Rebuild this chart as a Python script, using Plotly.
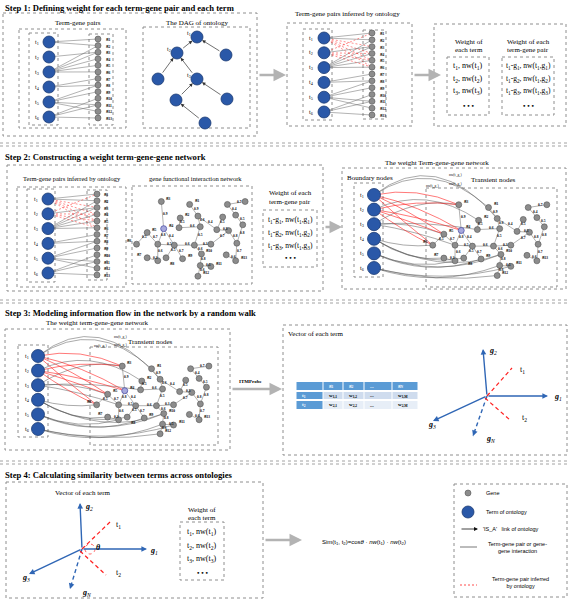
import plotly.graph_objects as go

# ---------------- data ----------------
term_labels = ["t1", "t2", "t3", "t4", "t5", "t6"]
gene_labels = ["g1", "g2", "g3", "g4", "g5", "g6", "g7", "g8", "g9", "g10", "g11", "g12", "g13"]
pair_edges = [(1, 1), (1, 2), (2, 3), (3, 2), (3, 3), (3, 4), (3, 5), (3, 6), (4, 7), (4, 8),
              (5, 8), (5, 9), (5, 11), (5, 12), (6, 10), (6, 11), (6, 13)]
inferred_edges = [(1, 3), (1, 4), (1, 5), (1, 6), (2, 1), (2, 4), (2, 5), (2, 6)]
dag_labels = ["t1", "t2", "", "t3", "", "", "", ""]
dag_links = [(1, 0), (2, 0), (4, 1), (3, 1), (5, 3), (6, 3), (7, 5)]  # child -> parent (IS_A)

net_nodes = [(0.24, 0.16), (0.26, 0.44), (0.12, 0.48), (0.03, 0.60), (0.21, 0.60), (0.35, 0.61),
             (0.12, 0.74), (0.21, 0.77), (0.28, 0.74), (0.42, 0.75), (0.40, 0.33), (0.39, 0.43),
             (0.48, 0.19), (0.55, 0.31), (0.57, 0.42), (0.52, 0.61), (0.58, 0.70), (0.57, 0.82),
             (0.55, 0.93), (0.66, 0.60), (0.71, 0.45), (0.76, 0.32), (0.81, 0.46), (0.88, 0.59),
             (0.87, 0.77), (0.79, 0.71), (0.80, 0.19), (0.87, 0.30), (0.93, 0.40), (0.95, 0.16),
             (0.66, 0.83)]
net_edges = [(0, 1, "0.9"), (1, 4, "0.8"), (1, 5, "0.4"), (2, 4, "0.7"), (2, 3, "0.5"), (4, 5, "0.5"),
             (4, 7, "0.6"), (6, 7, "0.3"), (5, 8, "0.5"), (5, 9, "0.7"), (5, 15, "0.6"), (10, 11, "0.5"),
             (11, 14, "0.6"), (12, 13, "0.9"), (13, 14, "0.6"), (14, 15, "0.5"), (15, 16, "0.6"),
             (16, 17, "0.8"), (17, 18, "0.6"), (17, 30, "0.5"), (15, 19, "0.3"), (13, 20, "0.4"),
             (20, 21, "0.5"), (20, 22, "0.5"), (22, 19, "0.7"), (22, 23, "0.8"), (23, 24, "0.7"),
             (25, 24, "0.6"), (23, 28, "0.8"), (28, 27, "0.5"), (27, 26, "0.4"), (26, 29, "0.7")]
net_labels = {12: "g1", 10: "g2", 0: "g3", 1: "g4", 2: "g5", 3: "g6", 6: "g7", 8: "g8", 9: "g9",
              16: "g10", 30: "g11", 18: "g12", 24: "g13"}
net_label_side = {3: "left", 8: "below", 6: "left"}
hub_node = 1
curves_red = [(0, 0, -14), (0, 1, -8), (0, 2, -4), (0, 3, 2), (1, 0, -8), (1, 1, -4), (1, 2, -1), (1, 3, 4)]
curves_black = [(0, 12, -45), (0, 13, -60), (1, 10, -30), (2, 0, -18), (2, 2, -8), (2, 4, -4),
                (2, 11, -6), (3, 3, 6), (3, 6, 14), (3, 8, 18), (3, 16, 30), (4, 7, 14), (4, 9, 22),
                (4, 16, 26), (5, 17, 22), (5, 30, 18), (5, 18, 12)]

weight_term_items = ["t<sub>1</sub>, nw(t<sub>1</sub>)", "t<sub>2</sub>, nw(t<sub>2</sub>)",
                     "t<sub>3</sub>, nw(t<sub>3</sub>)"]
weight_pair_items = ["t<sub>1</sub>-g<sub>1</sub>, nw(t<sub>1</sub>,g<sub>1</sub>)",
                     "t<sub>1</sub>-g<sub>2</sub>, nw(t<sub>1</sub>,g<sub>2</sub>)",
                     "t<sub>1</sub>-g<sub>3</sub>, nw(t<sub>1</sub>,g<sub>3</sub>)"]
table_header = ["", "g<sub>1</sub>", "g<sub>2</sub>", "...", "g<sub>N</sub>"]
table_rows = [["t<sub>1</sub>", "w<sub>1,1</sub>", "w<sub>1,2</sub>", "...", "w<sub>1,M</sub>"],
              ["t<sub>2</sub>", "w<sub>2,1</sub>", "w<sub>2,2</sub>", "...", "w<sub>2,M</sub>"]]
legend_labels = ["Gene", "Term of ontology", "'IS_A'   link of ontology",
                 "Term-gene pair or gene-<br>gene interaction", "Term-gene pair inferred<br>by ontology"]
step_titles = ["Step 1: Defining weight for each term-gene pair and each term",
               "Step 2: Constructing a weight term-gene-gene network",
               "Step 3: Modeling information flow in the network by a random walk",
               "Step 4: Calculating similarity between terms across ontologies"]

# ---------------- style ----------------
SERIF = "Liberation Serif, Times New Roman, serif"
SANS = "Liberation Sans, Arial, sans-serif"
BLUE = "#2a58a8"
BLUE_EDGE = "#1c3b73"
GRAY = "#8c8c8c"
GRAY_EDGE = "#555555"
RED = "#ff1f1f"
BOXC = "#8e8e8e"
VEC = "#2f66b5"

shapes, annos = [], []
marks = {"term": [[], [], []], "gene": [[], []], "hub": [[], []]}


def box(x0, y0, x1, y1, color=BOXC, dash="dot", width=1):
    shapes.append(dict(type="rect", x0=x0, y0=y0, x1=x1, y1=y1, layer="below",
                       line=dict(color=color, width=width, dash=dash)))


def line(x0, y0, x1, y1, color="#444", width=0.6, dash="solid"):
    shapes.append(dict(type="line", x0=x0, y0=y0, x1=x1, y1=y1, layer="below",
                       line=dict(color=color, width=width, dash=dash)))


def curve(x0, y0, x1, y1, bow, color, width=0.6):
    cx, cy = (x0 + x1) / 2, (y0 + y1) / 2 + bow
    shapes.append(dict(type="path", path=f"M {x0},{y0} Q {cx},{cy} {x1},{y1}", layer="below",
                       line=dict(color=color, width=width)))


def text(x, y, s, size=7, font=SERIF, color="black", xanchor="center", bold=False):
    if bold:
        s = f"<b>{s}</b>"
    annos.append(dict(x=x, y=y, text=s, showarrow=False, xanchor=xanchor, yanchor="middle",
                      font=dict(family=font, size=size, color=color)))


def arrow(x0, y0, x1, y1, color="#333", width=0.8, head=2, size=1.0, standoff=0, startstandoff=0):
    annos.append(dict(x=x1, y=y1, ax=x0, ay=y0, axref="x", ayref="y", xref="x", yref="y", text="",
                      showarrow=True, arrowhead=head, arrowsize=size, arrowwidth=width,
                      arrowcolor=color, standoff=standoff, startstandoff=startstandoff))


def term(x, y, size):
    marks["term"][0].append(x); marks["term"][1].append(y); marks["term"][2].append(size)


def gene(x, y):
    marks["gene"][0].append(x); marks["gene"][1].append(y)


def spaced(a, b, n):
    return [a + (b - a) * i / (n - 1) for i in range(n)]


def bipartite(tx, ty0, ty1, tlx, gx, gy0, gy1, glx, red=True, tsize=12):
    tys = spaced(ty0, ty1, len(term_labels))
    gys = spaced(gy0, gy1, len(gene_labels))
    for t, g in pair_edges:
        line(tx, tys[t - 1], gx, gys[g - 1], "#666", 0.5)
    if red:
        for t, g in inferred_edges:
            line(tx, tys[t - 1], gx, gys[g - 1], RED, 0.5, "2px,2px")
    for i, lab in enumerate(term_labels):
        term(tx, tys[i], tsize)
        text(tlx, tys[i], f"{lab[0]}<sub>{lab[1:]}</sub>", size=6)
    for i, lab in enumerate(gene_labels):
        gene(gx, gys[i])
        text(glx, gys[i], f"<b>{lab[0]}<sub>{lab[1:]}</sub></b>", size=5, xanchor="left")


def network(x0, y0, w, h, weights=True):
    pts = [(x0 + u * w, y0 + v * h) for u, v in net_nodes]
    for i, j, wt in net_edges:
        (ax_, ay_), (bx_, by_) = pts[i], pts[j]
        line(ax_, ay_, bx_, by_, "#666", 0.5)
        if weights:
            text((ax_ + bx_) / 2 + 3, (ay_ + by_) / 2 - 1, f"<b>{wt}</b>", size=3.5)
    for k, (x, y) in enumerate(pts):
        if k == hub_node:
            marks["hub"][0].append(x); marks["hub"][1].append(y)
        else:
            gene(x, y)
    for k, lab in net_labels.items():
        x, y = pts[k]
        side = net_label_side.get(k, "right")
        s = f"<b>{lab[0]}<sub>{lab[1:]}</sub></b>"
        if side == "left":
            text(x - 3, y - 4, s, size=5, xanchor="right")
        elif side == "below":
            text(x + 2, y + 5, s, size=5, xanchor="left")
        else:
            text(x + 3, y - 4, s, size=5, xanchor="left")
    return pts


def term_curves(tx, ty0, ty1, pts):
    tys = spaced(ty0, ty1, len(term_labels))
    for t, n, b in curves_black:
        curve(tx, tys[t], pts[n][0], pts[n][1], b, "#555", 0.5)
    for t, n, b in curves_red:
        curve(tx, tys[t], pts[n][0], pts[n][1], b, RED, 0.6)
    return tys


def vector_plot(ox, oy, ends, labels):
    (g2, g1, g3, gN, t1, t2) = ends
    for e in (g2, g1, g3):
        arrow(ox, oy, e[0], e[1], VEC, 1.4, 2, 0.8)
    line(ox, oy, gN[0], gN[1], VEC, 1.4, "4px,3px")
    arrow(ox + (gN[0] - ox) * 0.85, oy + (gN[1] - oy) * 0.85, gN[0], gN[1], VEC, 1.4, 2, 0.8)
    line(ox, oy, t1[0], t1[1], RED, 1.2, "4px,3px")
    line(ox - 2, oy + 2, t2[0], t2[1], RED, 1.2, "4px,3px")
    for (lx, ly, s) in labels:
        text(lx, ly, s, size=8, xanchor="left")


# ---------------- separators ----------------
for ys in (143, 300, 461):
    line(0, ys, 568, ys, "#8a8a8a", 0.8, "dot")
    line(0, ys + 3, 568, ys + 3, "#8a8a8a", 0.8, "dot")

# ---------------- titles ----------------
for ty, s in zip((8, 157, 313, 475), step_titles):
    text(3, ty, s, size=8.6, xanchor="left", bold=True)

# ================= STEP 1 =================
box(3, 13, 257, 136)
text(78, 23, "Term-gene pairs", size=7)
box(19, 29, 126, 128)
box(29, 33, 58, 125)
box(89, 34, 113, 125)
bipartite(49, 42, 117, 37, 98, 39, 118, 104, red=False, tsize=12)

text(197, 23, "The DAG of ontology", size=7)
box(143, 27, 250, 128)
dag_xy = [(197, 37), (177, 53), (226, 55), (197, 79), (158, 79), (176, 100), (227, 99), (205, 123)]
for c, p in dag_links:
    arrow(dag_xy[c][0], dag_xy[c][1], dag_xy[p][0], dag_xy[p][1], "#333", 0.7, 2, 1.0, 6, 6)
for (x, y), lab in zip(dag_xy, dag_labels):
    term(x, y, 12)
    if lab:
        text(x - 8, y - 4, f"{lab[0]}<sub>{lab[1:]}</sub>", size=6)

arrow(258, 75, 286, 75, "#b3b3b3", 2.5, 2, 1.0)

text(347, 14, "Term-gene pairs inferred by ontology", size=7)
box(287, 23, 412, 126)
box(303, 29, 332, 120)
box(363, 30, 386, 119)
bipartite(324, 38, 112, 311, 372, 33, 115, 378, red=True, tsize=12)

arrow(413, 75, 441, 75, "#b3b3b3", 2.5, 2, 1.0)

box(434, 24, 566, 126)
text(469, 42, "Weight of", size=7)
text(469, 50, "each term", size=7)
box(447, 57, 489, 115)
for y, s in zip((66, 79, 91), weight_term_items):
    text(468, y, s, size=8)
text(468, 106, "<b>• • •</b>", size=7)
text(528, 42, "Weight of each", size=7)
text(528, 50, "term-gene pair", size=7)
box(502, 57, 554, 115)
for y, s in zip((66, 79, 91), weight_pair_items):
    text(528, y, s, size=7.5)
text(528, 106, "<b>• • •</b>", size=7)

# ================= STEP 2 =================
box(7, 165, 323, 291)
text(72, 178, "Term-gene pairs inferred by ontology", size=6.5)
box(17, 187, 126, 287)
box(27, 189, 55, 282)
box(87, 190, 107, 280)
bipartite(48, 199, 273, 36, 97, 194, 275, 102, red=True, tsize=12)

text(195, 178, "gene functional interaction network", size=6.5)
box(132, 186, 252, 284)
network(133, 186, 118, 97)

text(290, 193, "Weight of each", size=7)
text(290, 202, "term-gene pair", size=7)
box(263, 210, 317, 267)
for y, s in zip((220, 233, 246), weight_pair_items):
    text(290, y, s, size=7.5)
text(290, 258, "<b>• • •</b>", size=7)

arrow(324, 227, 342, 227, "#b3b3b3", 2.5, 2, 1.0)

box(342, 168, 566, 289)
text(437, 163, "The weight Term-gene-gene network", size=7)
text(370, 178, "Boundary nodes", size=7)
box(354, 183, 383, 277)
text(493, 180, "Transient nodes", size=7)
box(426, 188, 557, 287)
pts2 = network(429, 190, 124, 92)
term_curves(374, 195, 268, pts2)
for i, y in enumerate(spaced(195, 268, 6)):
    term(374, y, 13)
    text(362, y, f"{term_labels[i][0]}<sub>{term_labels[i][1:]}</sub>", size=6)
text(455, 175, "nw(t<sub>1</sub>,g<sub>1</sub>)", size=3.5)
text(455, 184, "nw(t<sub>1</sub>,g<sub>2</sub>)", size=3.5)
text(432, 186, "nw(t<sub>2</sub>,g<sub>3</sub>)", size=3.5)

# ================= STEP 3 =================
text(97, 323, "The weight term-gene-gene network", size=7)
box(5, 329, 230, 450)
box(18, 345, 48, 437)
text(150, 342, "Transient nodes", size=7)
box(90, 347, 218, 445)
pts3 = network(93, 352, 122, 88)
term_curves(38, 356, 429, pts3)
for i, y in enumerate(spaced(356, 429, 6)):
    term(38, y, 13)
    text(27, y, f"{term_labels[i][0]}<sub>{term_labels[i][1:]}</sub>", size=6)
text(120, 337, "nw(t<sub>1</sub>,g<sub>1</sub>)", size=3.5)
text(120, 345, "nw(t<sub>1</sub>,g<sub>2</sub>)", size=3.5)
text(100, 346, "nw(t<sub>2</sub>,g<sub>3</sub>)", size=3.5)

text(250, 381, "<b>ITMProbe</b>", size=5)
arrow(231, 389, 282, 389, "#b3b3b3", 2.5, 2, 1.0)

box(283, 325, 567, 455)
text(286, 334, "Vector of each term", size=7, xanchor="left")
col_x = [296, 323, 343, 364, 392, 418]
row_y = [(382, 390), (392, 399), (401, 409)]
row_fill = ["#5b9bd5", "#cfdcee", "#e7eef7"]
for r, (ya, yb) in enumerate(row_y):
    cells = table_header if r == 0 else table_rows[r - 1]
    for c in range(5):
        fill = "#5b9bd5" if (r == 0 or c == 0) else row_fill[r]
        shapes.append(dict(type="rect", x0=col_x[c] + 0.5, x1=col_x[c + 1] - 0.5, y0=ya, y1=yb,
                           fillcolor=fill, line=dict(width=0), layer="below"))
        col = "white" if (r == 0 or c == 0) else "black"
        text(col_x[c] + 4, (ya + yb) / 2, f"<b>{cells[c]}</b>", size=5, color=col, xanchor="left")

vector_plot(487, 396,
            [(483, 349), (548, 396), (433, 421), (473, 436), (512, 368), (510, 420)],
            [(487, 351, "<i><b>g</b><sub>2</sub></i>"), (552, 397, "<i><b>g</b><sub>1</sub></i>"),
             (426, 425, "<i><b>g</b><sub>3</sub></i>"), (484, 439, "<i><b>g</b><sub>N</sub></i>"),
             (518, 370, "t<sub>1</sub>"), (520, 418, "t<sub>2</sub>")])

# ================= STEP 4 =================
box(6, 482, 263, 598)
text(83, 493, "Vector of each term", size=7)
vector_plot(82, 549,
            [(80, 503), (147, 549), (29, 574), (70, 589), (110, 522), (106, 575)],
            [(83, 507, "<i><b>g</b><sub>2</sub></i>"), (148, 551, "<i><b>g</b><sub>1</sub></i>"),
             (20, 578, "<i><b>g</b><sub>3</sub></i>"), (80, 593, "<i><b>g</b><sub>N</sub></i>"),
             (114, 525, "t<sub>1</sub>"), (114, 573, "t<sub>2</sub>")])
shapes.append(dict(type="circle", x0=85, x1=95, y0=544, y1=554, layer="below",
                   line=dict(color=RED, width=0.7, dash="dot")))
text(98, 547, "<i><b>θ</b></i>", size=8)

text(202, 510, "Weight of", size=7)
text(202, 518, "each term", size=7)
box(180, 522, 224, 580)
for y, s in zip((532, 546, 559), weight_term_items):
    text(202, y, s, size=8)
text(202, 573, "<b>• • •</b>", size=7)

arrow(264, 540, 302, 540, "#b3b3b3", 2.5, 2, 1.0)
text(320, 542, "Sim(t<sub>1</sub>, t<sub>2</sub>)=cos<i>θ</i> · <i>nw</i>(t<sub>1</sub>) · <i>nw</i>(t<sub>2</sub>)",
     size=6, font=SANS, xanchor="left")

# legend
box(454, 484, 567, 597)
gene(468, 493)
text(484, 493, legend_labels[0], size=5.5, font=SANS, xanchor="left")
term(468, 512, 12)
text(484, 512, legend_labels[1], size=5.5, font=SANS, xanchor="left")
arrow(460, 529, 478, 529, "#111", 0.8, 2, 1.0)
text(481, 529, legend_labels[2], size=5.5, font=SANS, xanchor="left")
line(460, 547, 477, 547, "#555", 0.8)
text(517, 547, legend_labels[3], size=5.5, font=SANS)
line(460, 585, 477, 585, RED, 0.8, "2px,2px")
text(520, 582, legend_labels[4], size=5.5, font=SANS)

# ---------------- traces ----------------
fig = go.Figure()
fig.add_trace(go.Scatter(x=marks["gene"][0], y=marks["gene"][1], mode="markers", hoverinfo="skip",
                         marker=dict(size=6, color=GRAY, opacity=1, line=dict(color=GRAY_EDGE, width=0.6))))
fig.add_trace(go.Scatter(x=marks["hub"][0], y=marks["hub"][1], mode="markers", hoverinfo="skip",
                         marker=dict(size=6, color="#a6a8dc", opacity=1, line=dict(color="#4f52a8", width=0.8))))
fig.add_trace(go.Scatter(x=marks["term"][0], y=marks["term"][1], mode="markers", hoverinfo="skip",
                         marker=dict(size=marks["term"][2], color=BLUE, opacity=1,
                                     line=dict(color=BLUE_EDGE, width=0.8))))

fig.update_layout(
    width=568, height=602, margin=dict(l=0, r=0, t=0, b=0),
    paper_bgcolor="white", plot_bgcolor="white", showlegend=False,
    xaxis=dict(range=[0, 568], visible=False, fixedrange=True),
    yaxis=dict(range=[602, 0], visible=False, fixedrange=True),
    shapes=shapes, annotations=annos,
)
fig.write_html("out.html", config={"displayModeBar": False},
               post_script="document.body.style.margin='0px';document.body.style.overflow='hidden';")
